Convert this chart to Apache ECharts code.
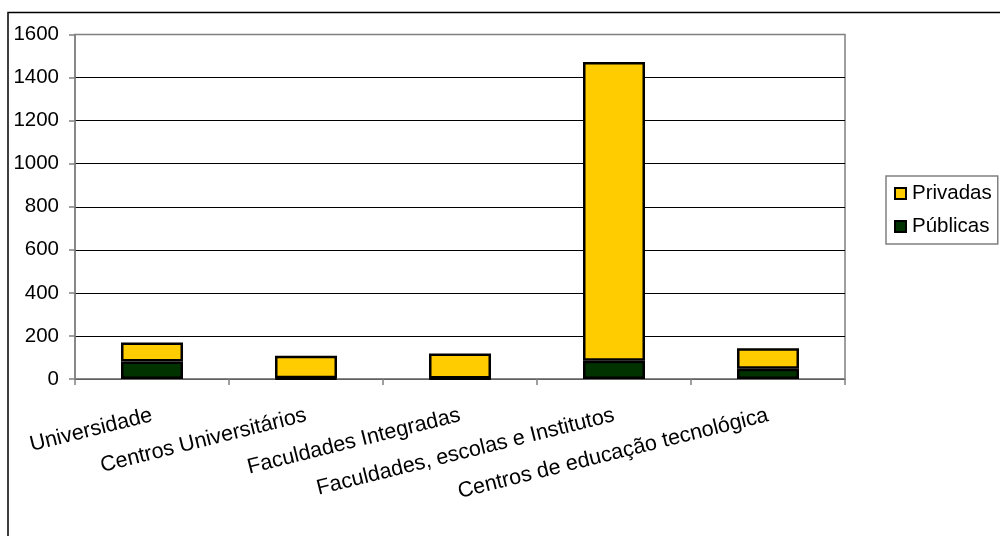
<!DOCTYPE html>
<html>
<head>
<meta charset="utf-8">
<script src="https://cdn.jsdelivr.net/npm/echarts@6/dist/echarts.min.js"></script>
<style>
html,body{margin:0;padding:0;background:#fff;}
#chart{width:1000px;height:536px;}
</style>
</head>
<body>
<div id="chart"></div>
<script>
const categories = ['Universidade', 'Centros Universitários', 'Faculdades Integradas', 'Faculdades, escolas e Institutos', 'Centros de educação tecnológica'];
const publicas = [81, 3, 2, 85, 48];
const privadas = [89, 105, 117, 1387, 95];
const yTicks = { min: 0, max: 1600, interval: 200 };

const FONT = 'Liberation Sans, Arial, sans-serif';
const FS = 20.5;
const chart = echarts.init(document.getElementById('chart'), null, { renderer: 'canvas' });
const gridColors = ['#000','#000','#000','#000','#000','#000','#000','#000','#808080'];
chart.setOption({
  animation: false,
  backgroundColor: '#fff',
  textStyle: { fontFamily: FONT },
  grid: { left: 75, right: 155, top: 34.5, bottom: 157, show: true, borderColor: '#808080', borderWidth: 1.5, backgroundColor: 'transparent' },
  legend: {
    data: ['Privadas', 'Públicas'],
    orient: 'vertical',
    left: 886, top: 176,
    icon: 'rect',
    itemWidth: 11, itemHeight: 11,
    itemGap: 12,
    padding: [7, 6, 7, 8],
    borderColor: '#808080', borderWidth: 1.5,
    textStyle: { fontSize: FS, color: '#000', fontFamily: FONT, lineHeight: 20, padding: [0,0,0,1] },
    itemStyle: { borderColor: '#000', borderWidth: 2 }
  },
  xAxis: {
    type: 'category',
    data: categories,
    axisLine: { lineStyle: { color: '#808080', width: 1.5 } },
    axisTick: { show: true, inside: false, length: 6, lineStyle: { color: '#808080', width: 1.5 } },
    axisLabel: { rotate: 14, margin: 36, fontSize: 21.5, color: '#000', fontFamily: FONT, interval: 0 }
  },
  yAxis: {
    type: 'value',
    min: yTicks.min, max: yTicks.max, interval: yTicks.interval,
    axisLine: { show: true, lineStyle: { color: '#808080', width: 1.5 } },
    axisTick: { show: true, inside: false, length: 6, lineStyle: { color: '#808080', width: 1.5 } },
    axisLabel: { margin: 16, fontSize: FS, color: '#000', fontFamily: FONT, formatter: function (v) { return String(v); } },
    splitLine: { show: true, lineStyle: { color: gridColors, width: 1 } }
  },
  series: [
    { name: 'Públicas', type: 'bar', stack: 'total', data: publicas, barWidth: 62,
      itemStyle: { color: '#003300', borderColor: '#000', borderWidth: 2.5 } },
    { name: 'Privadas', type: 'bar', stack: 'total', data: privadas, barWidth: 62,
      itemStyle: { color: '#FFCC00', borderColor: '#000', borderWidth: 2.5 } }
  ],
  graphic: [
    { type: 'rect', shape: { x: 8, y: 12.5, width: 1100, height: 700 }, style: { fill: 'none', stroke: '#000', lineWidth: 1.5 }, silent: true, z: 100 }
  ]
});
</script>
</body>
</html>
